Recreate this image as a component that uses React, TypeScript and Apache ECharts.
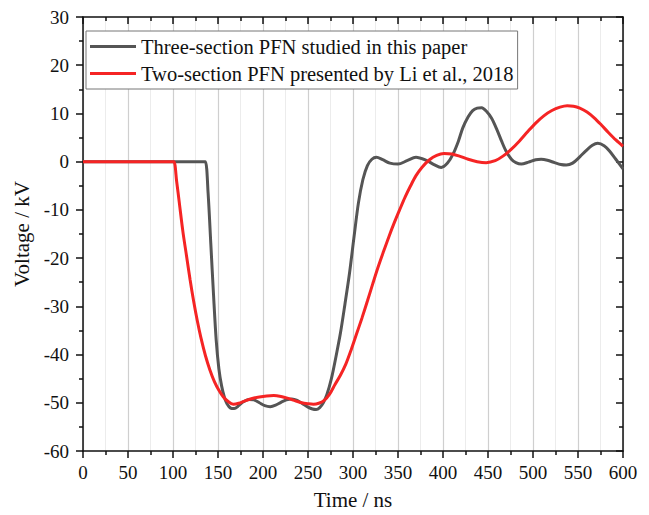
import React, { useEffect, useRef } from "react";
import * as echarts from "echarts";

// ---- Data ----
const seriesNames = [
  "Three-section PFN studied in this paper",
  "Two-section PFN presented by Li et al., 2018",
];

const threeSectionTime = [
  0, 133, 136, 139, 142, 145, 148, 151, 154, 157, 160, 164, 168, 173, 178, 184,
  190, 196, 202, 208, 214, 220, 226, 232, 238, 244, 250, 255, 259, 263, 267, 271,
  276, 281, 286, 291, 296, 301, 306, 311, 316, 321, 326, 333, 341, 350, 360, 370,
  381, 390, 398, 405, 411, 417, 422, 428, 433, 438, 443, 448, 454, 460, 465, 470,
  476, 481, 487, 495, 503, 509, 516, 524, 531, 537, 544, 552, 559, 566, 572, 579,
  585, 592, 600,
];
const threeSectionVoltage = [
  0, 0, 0, -6.5, -17, -27.5, -37, -43, -46.5, -48.8, -50.2, -51.1, -51.2, -50.6, -49.8, -49.3,
  -49.4, -50, -50.6, -50.8, -50.5, -49.9, -49.4, -49.2, -49.5, -50.2, -50.9, -51.3, -51.4, -51, -50, -48.3,
  -45, -40.5, -35.6, -29.6, -23.3, -15.8, -8.6, -3.7, -0.8, 0.5, 0.9, 0.4, -0.3, -0.5, 0.2, 0.9,
  0.3, -0.6, -1.2, -0.3, 1.5, 4.2, 7, 9.3, 10.6, 11.1, 11.2, 10.5, 9, 6.6, 4.3, 2.2,
  0.5, -0.2, -0.5, -0.1, 0.4, 0.5, 0.3, -0.2, -0.6, -0.7, -0.3, 1, 2.3, 3.4, 3.8, 3.3,
  2.2, 0.5, -1.5,
];

const twoSectionTime = [
  0, 98, 101, 104, 107, 111, 115, 119, 123, 127, 131, 136, 141, 146, 151, 156,
  161, 167, 173, 180, 188, 196, 204, 212, 220, 228, 236, 243, 250, 256, 262, 268,
  274, 280, 286, 292, 298, 304, 310, 316, 322, 328, 334, 340, 346, 352, 358, 364,
  370, 377, 385, 393, 401, 410, 419, 428, 438, 448, 458, 467, 476, 485, 494, 503,
  512, 521, 530, 538, 545, 552, 560, 568, 576, 584, 592, 600,
];
const twoSectionVoltage = [
  0, 0, 0, -4, -8.5, -14.5, -19.5, -24.5, -29, -33, -36.5, -40.2, -43.2, -45.6, -47.4, -48.8,
  -49.7, -50.3, -50.1, -49.6, -49.1, -48.8, -48.6, -48.5, -48.7, -49.1, -49.6, -50, -50.2, -50.3, -50.1, -49.5,
  -48.2, -46.2, -44.3, -42, -39, -35.7, -32.4, -28.9, -25.3, -21.8, -18.6, -15.5, -12.6, -9.9, -7.3, -5,
  -2.9, -1.1, 0.4, 1.3, 1.7, 1.6, 1.1, 0.5, 0, -0.2, 0.2, 1.2, 2.6, 4.3, 6.2, 8,
  9.5, 10.6, 11.3, 11.6, 11.5, 11.1, 10.3, 9.1, 7.6, 6, 4.5, 3.2,
];

const xMin = 0;
const xMax = 600;
const xStep = 50;
const yMin = -60;
const yMax = 30;
const yStep = 10;

const FONT = "'Liberation Serif', 'Times New Roman', serif";

function zip(t: number[], v: number[]) {
  return t.map((x, i) => [x, v[i]]);
}

export default function App() {
  const ref = useRef<HTMLDivElement>(null);

  useEffect(() => {
    if (!ref.current) return;
    const chart = echarts.init(ref.current, undefined, { renderer: "svg" });

    const axisLine = { show: true, onZero: false, lineStyle: { color: "#111", width: 1.5 } };
    const tickStyle = { color: "#111", width: 1.5 };

    chart.setOption({
      animation: false,
      backgroundColor: "#fff",
      grid: { left: 83, right: 26, top: 17, bottom: 60, containLabel: false },
      legend: {
        show: true,
        orient: "vertical",
        left: 86,
        top: 31,
        data: seriesNames,
        icon: "rect",
        itemWidth: 46,
        itemHeight: 3,
        itemGap: 6,
        padding: [5, 4, 5, 4],
        borderColor: "#777",
        borderWidth: 1,
        backgroundColor: "#fff",
        textStyle: { fontFamily: FONT, fontSize: 20.5, color: "#111" },
      },
      xAxis: [
        {
          type: "value",
          position: "bottom",
          min: xMin,
          max: xMax,
          interval: xStep,
          axisLine,
          axisTick: { show: true, inside: false, length: 7, lineStyle: tickStyle },
          minorTick: { show: true, splitNumber: 2, length: 4, lineStyle: tickStyle },
          axisLabel: { show: true, fontFamily: FONT, fontSize: 19, color: "#111", margin: 12 },
          splitLine: { show: true, lineStyle: { color: "#cfcfcf", width: 1.2 } },
          minorSplitLine: { show: true, lineStyle: { color: "#ececec", width: 1 } },
          name: "Time / ns",
          nameLocation: "middle",
          nameGap: 38,
          nameTextStyle: { fontFamily: FONT, fontSize: 21, color: "#111" },
        },
        {
          type: "value",
          position: "top",
          min: xMin,
          max: xMax,
          interval: xStep,
          axisLine,
          axisTick: { show: true, inside: true, length: 7, lineStyle: tickStyle },
          minorTick: { show: true, splitNumber: 2, length: 4, lineStyle: tickStyle },
          axisLabel: { show: false },
          splitLine: { show: false },
        },
      ],
      yAxis: [
        {
          type: "value",
          position: "left",
          min: yMin,
          max: yMax,
          interval: yStep,
          axisLine,
          axisTick: { show: true, inside: false, length: 7, lineStyle: tickStyle },
          minorTick: { show: true, splitNumber: 2, length: 4, lineStyle: tickStyle },
          axisLabel: { show: true, fontFamily: FONT, fontSize: 19, color: "#111", margin: 14 },
          splitLine: { show: false },
          name: "Voltage / kV",
          nameLocation: "middle",
          nameGap: 50,
          nameTextStyle: { fontFamily: FONT, fontSize: 21, color: "#111" },
        },
        {
          type: "value",
          position: "right",
          min: yMin,
          max: yMax,
          interval: yStep,
          axisLine,
          axisTick: { show: true, inside: true, length: 7, lineStyle: tickStyle },
          minorTick: { show: true, splitNumber: 2, length: 4, lineStyle: tickStyle },
          axisLabel: { show: false },
          splitLine: { show: false },
        },
      ],
      series: [
        {
          name: seriesNames[0],
          type: "line",
          xAxisIndex: 0,
          yAxisIndex: 0,
          data: zip(threeSectionTime, threeSectionVoltage),
          showSymbol: false,
          smooth: 0.3,
          lineStyle: { color: "#555555", width: 3 },
          itemStyle: { color: "#555555" },
        },
        {
          name: seriesNames[1],
          type: "line",
          xAxisIndex: 0,
          yAxisIndex: 0,
          data: zip(twoSectionTime, twoSectionVoltage),
          showSymbol: false,
          smooth: 0.3,
          lineStyle: { color: "#f52424", width: 3 },
          itemStyle: { color: "#f52424" },
        },
      ],
    });

    return () => chart.dispose();
  }, []);

  return (
    <div
      ref={ref}
      style={{ position: "fixed", left: 0, top: 0, width: 649, height: 515, background: "#fff" }}
    />
  );
}
